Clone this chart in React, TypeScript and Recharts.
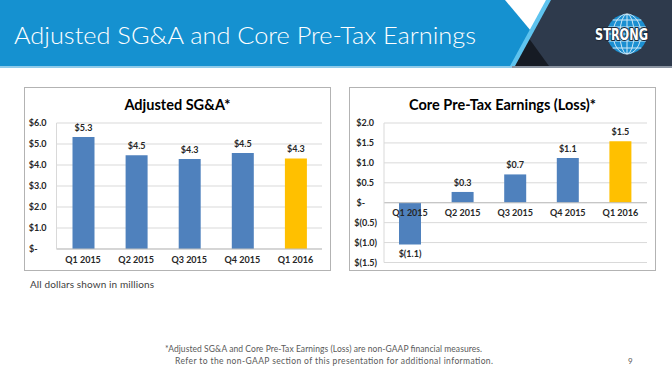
import React from 'react'
import { BarChart, Bar, XAxis, YAxis, CartesianGrid, Cell, LabelList, ReferenceLine } from 'recharts'

// quarters shared by both panels
const quarters = ['Q1 2015', 'Q2 2015', 'Q3 2015', 'Q4 2015', 'Q1 2016']

// Adjusted SG&A ($M)
const sgaValues = [5.33, 4.46, 4.29, 4.57, 4.31]
const sgaLabels = ['$5.3', '$4.5', '$4.3', '$4.5', '$4.3']
const sgaTicks = [0, 1, 2, 3, 4, 5, 6]

// Core pre-tax earnings (loss) ($M)
const earningsValues = [-1.05, 0.27, 0.71, 1.12, 1.54]
const earningsLabels = ['$(1.1)', '$0.3', '$0.7', '$1.1', '$1.5']
const earningsTicks = [-1.5, -1, -0.5, 0, 0.5, 1, 1.5, 2]

const BLUE = '#4f81bd'
const GOLD = '#ffc000'
const GRID = '#d9d9d9'
const AXIS = '#bfbfbf'
const TEXT = '#262626'
const FONT = 'Lato, "Noto Sans", sans-serif'
const HEAD_FONT = 'Lato, "Open Sans", sans-serif'

const sgaRows = quarters.map((q, i) => ({ quarter: q, value: sgaValues[i], label: sgaLabels[i] }))
const earningsRows = quarters.map((q, i) => ({ quarter: q, value: earningsValues[i], label: earningsLabels[i] }))

/** Excel accounting style: $1.0 / $(1.0) / $- */
function money(v: number) {
  if (v === 0) return '$-'
  if (v < 0) return `$(${Math.abs(v).toFixed(1)})`
  return `$${v.toFixed(1)}`
}

function MoneyTick(props: any) {
  const { x, y, payload } = props
  const v = payload.value
  // positives leave room for the ")" and zero for the digits as well
  const dx = v < 0 ? 0 : v === 0 ? -12 : -3
  return (
    <text x={x + dx} y={y} dy={3.2} textAnchor="end" fontSize={9} fontWeight={700} fill={TEXT} fontFamily={FONT}>
      {money(v)}
    </text>
  )
}

function barBox(props: any) {
  const vb = props.viewBox ?? props
  const { x, y, width, height } = vb
  return {
    cx: x + width / 2,
    top: Math.min(y, y + height),
    bottom: Math.max(y, y + height),
  }
}

// value label above a positive bar, below a negative one
const makeValueLabel = (values: number[]) => (props: any) => {
  const { cx, top, bottom } = barBox(props)
  const neg = values[props.index] < 0
  return (
    <text
      x={cx}
      y={neg ? bottom + 12.8 : top - 6}
      textAnchor="middle"
      fontSize={9}
      fontWeight={700}
      fill={TEXT}
      fontFamily={FONT}
    >
      {props.value}
    </text>
  )
}

// category name hung under the zero line (right panel)
const makeCategoryLabel = (values: number[]) => (props: any) => {
  const { cx, top, bottom } = barBox(props)
  const zero = values[props.index] < 0 ? top : bottom
  return (
    <text x={cx} y={zero + 13.6} textAnchor="middle" fontSize={9} fontWeight={700} fill={TEXT} fontFamily={FONT}>
      {props.value}
    </text>
  )
}

const panelStyle: React.CSSProperties = {
  position: 'absolute',
  top: 87,
  width: 307,
  height: 184,
  border: '1px solid #b3b3b3',
  boxSizing: 'border-box',
  background: '#fff',
}

const titleStyle: React.CSSProperties = {
  position: 'absolute',
  left: 0,
  right: 0,
  top: 8,
  textAlign: 'center',
  fontFamily: FONT,
  fontWeight: 700,
  fontSize: 14.5,
  color: '#000',
  lineHeight: '18px',
}

function SgaChart() {
  return (
    <div style={{ ...panelStyle, left: 24 }}>
      <div style={titleStyle}>Adjusted SG&amp;A*</div>
      <BarChart width={305} height={182} data={sgaRows} margin={{ top: 35, right: 8, bottom: 3, left: 0 }}>
        <CartesianGrid vertical={false} stroke={GRID} />
        <XAxis
          dataKey="quarter"
          height={18}
          tickLine={false}
          tickSize={0}
          tickMargin={8}
          axisLine={{ stroke: AXIS }}
          tick={{ fontSize: 9, fontWeight: 700, fill: TEXT, fontFamily: FONT }}
        />
        <YAxis
          width={31.5}
          domain={[0, 6]}
          ticks={sgaTicks}
          interval={0}
          tickLine={false}
          tickSize={0}
          tickMargin={7}
          axisLine={{ stroke: GRID }}
          tick={<MoneyTick />}
        />
        <Bar dataKey="value" barSize={22} isAnimationActive={false}>
          {sgaRows.map((r, i) => (
            <Cell key={r.quarter + i} fill={i === sgaRows.length - 1 ? GOLD : BLUE} />
          ))}
          <LabelList dataKey="label" content={makeValueLabel(sgaValues)} />
        </Bar>
      </BarChart>
    </div>
  )
}

function EarningsChart() {
  return (
    <div style={{ ...panelStyle, left: 349 }}>
      <div style={titleStyle}>Core Pre-Tax Earnings (Loss)*</div>
      <BarChart width={305} height={182} data={earningsRows} margin={{ top: 35, right: 8, bottom: 7.5, left: 0 }}>
        <CartesianGrid vertical={false} stroke={GRID} />
        <XAxis dataKey="quarter" hide />
        <YAxis
          width={34}
          domain={[-1.5, 2]}
          ticks={earningsTicks}
          interval={0}
          tickLine={false}
          tickSize={0}
          tickMargin={7}
          axisLine={{ stroke: GRID }}
          tick={<MoneyTick />}
        />
        <ReferenceLine y={0} stroke={AXIS} />
        <Bar dataKey="value" barSize={22} isAnimationActive={false}>
          {earningsRows.map((r, i) => (
            <Cell key={r.quarter + i} fill={i === earningsRows.length - 1 ? GOLD : BLUE} />
          ))}
          <LabelList dataKey="label" content={makeValueLabel(earningsValues)} />
          <LabelList dataKey="quarter" content={makeCategoryLabel(earningsValues)} />
        </Bar>
      </BarChart>
    </div>
  )
}

function Globe() {
  const cx = 627
  const cy = 34
  const r = 20
  const lats = [-14, -7, 0, 7, 14]
  return (
    <g>
      <circle cx={cx} cy={cy} r={r} fill="#1b8fd1" />
      {lats.map((d) => {
        const hw = Math.sqrt(r * r - d * d)
        return <line key={d} x1={cx - hw} x2={cx + hw} y1={cy + d} y2={cy + d} stroke="#cfe8f6" strokeWidth={1} />
      })}
      <ellipse cx={cx} cy={cy} rx={7} ry={r} fill="none" stroke="#cfe8f6" strokeWidth={1} />
      <ellipse cx={cx} cy={cy} rx={14} ry={r} fill="none" stroke="#cfe8f6" strokeWidth={1} />
      <line x1={cx} x2={cx} y1={cy - r} y2={cy + r} stroke="#cfe8f6" strokeWidth={1} />
      <text
        x={595}
        y={40}
        textLength={53}
        lengthAdjust="spacingAndGlyphs"
        fontSize={16}
        fontWeight={700}
        fontFamily='"DejaVu Sans Condensed", "Liberation Sans Narrow", sans-serif'
        fill="#fff"
        stroke="#1e2836"
        strokeWidth={2}
        paintOrder="stroke"
      >
        STRONG
      </text>
    </g>
  )
}

function PageArt() {
  return (
    <svg width={672} height={372} style={{ position: 'absolute', left: 0, top: 0 }}>
      {/* header band */}
      <rect x={0} y={0} width={672} height={66} fill="#1591d0" />
      <polygon points="548,0 672,0 672,66 512,66" fill="#2e3a4c" />
      <polygon points="505,0 548,0 531,31" fill="#ffffff" />
      <polygon points="528,37 512,66 549,66" fill="#161b24" />
      <polygon points="546,0 551,0 515,66 510,66" fill="#5ec3ee" />
      <rect x={0} y={66} width={512} height={2} fill="#8fcbea" />
      <rect x={512} y={66} width={160} height={2} fill="#8b94a1" />
      <text
        x={14}
        y={44}
        textLength={462}
        lengthAdjust="spacingAndGlyphs"
        fontSize={24}
        fontWeight={300}
        fontFamily={HEAD_FONT}
        fill="#fff"
      >
        Adjusted SG&amp;A and Core Pre-Tax Earnings
      </text>
      <Globe />

      {/* notes */}
      <text x={30} y={288} fontSize={10} fontFamily={HEAD_FONT} fill="#404040" textLength={124}>
        All dollars shown in millions
      </text>
      <text x={323.5} y={352} fontSize={8.5} fontFamily={HEAD_FONT} fill="#595959" textAnchor="middle" textLength={317}>
        *Adjusted SG&amp;A and Core Pre-Tax Earnings (Loss) are non-GAAP financial measures.
      </text>
      <text x={334} y={364} fontSize={8.5} fontFamily={HEAD_FONT} fill="#595959" textAnchor="middle" textLength={318}>
        Refer to the non-GAAP section of this presentation for additional information.
      </text>
      <text x={628} y={364} fontSize={8} fontFamily={HEAD_FONT} fill="#595959">
        9
      </text>
    </svg>
  )
}

export default function App() {
  return (
    <div style={{ position: 'relative', width: 672, height: 372, background: '#fff', overflow: 'hidden' }}>
      <style>{'body{margin:0}'}</style>
      <PageArt />
      <SgaChart />
      <EarningsChart />
    </div>
  )
}
